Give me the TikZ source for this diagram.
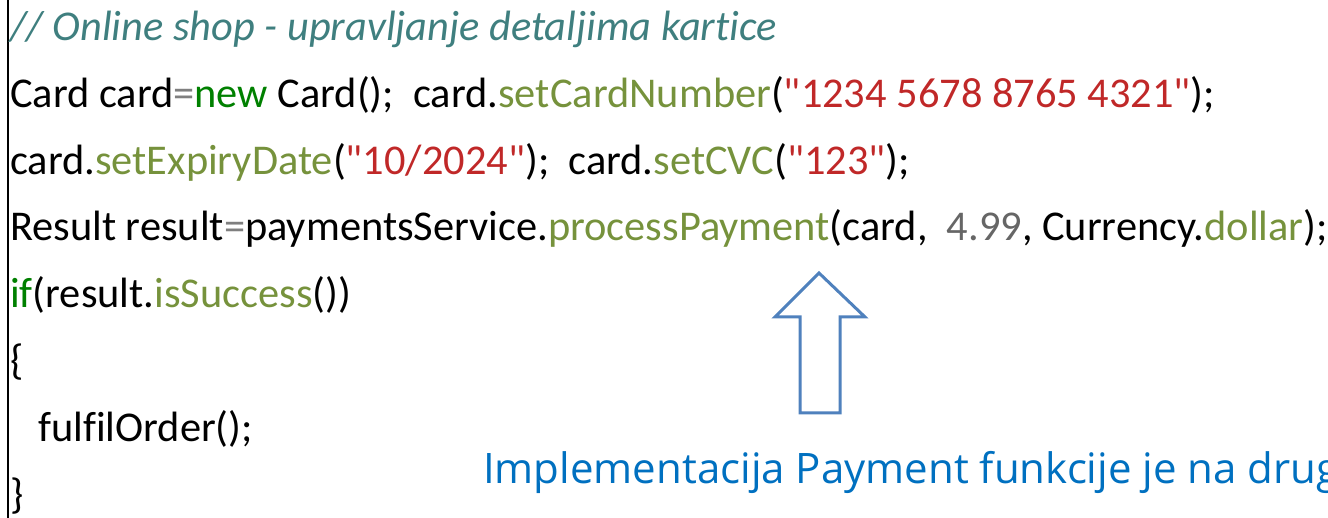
\documentclass[tikz,border=0pt]{standalone}
\usepackage{fontspec}
\setmainfont{Carlito}[Ligatures={TeXOff,CommonOff}]
\newfontfamily\notefont{Open Sans}
\definecolor{cmtcol}{HTML}{3F7F7F}
\definecolor{keycol}{HTML}{008000}
\definecolor{methcol}{HTML}{76923C}
\definecolor{strcol}{HTML}{C02828}
\definecolor{opcol}{HTML}{7F7F7F}
\definecolor{numcol}{HTML}{666666}
\definecolor{notecol}{HTML}{0070C0}
\definecolor{arrowcol}{HTML}{4F81BD}
\newcommand{\cKey}[1]{\textcolor{keycol}{#1}}
\newcommand{\cMeth}[1]{\textcolor{methcol}{#1}}
\newcommand{\cStr}[1]{\textcolor{strcol}{#1}}
\newcommand{\cOp}[1]{\textcolor{opcol}{#1}}
\newcommand{\cNum}[1]{\textcolor{numcol}{#1}}
\newcommand{\dq}{\symbol{34}}
\begin{document}
\begin{tikzpicture}[x=1pt,y=-1pt,
  codeline/.style={anchor=base west, inner sep=0pt, font=\fontsize{42.4}{48}\selectfont},
  notetext/.style={anchor=base west, inner sep=0pt, text=notecol, font=\notefont\fontsize{42}{48}\selectfont},
  bigarrow/.style={draw=arrowcol, line width=3pt, fill=white, line join=miter}]
\useasboundingbox (0,0) rectangle (1328,518);
\clip (0,0) rectangle (1328,518);
\draw[line width=2pt] (8,0) -- (8,518);
\node[codeline, text=cmtcol, font=\fontsize{42.4}{48}\selectfont\itshape] (l1) at (10,41) {// Online shop - upravljanje detaljima kartice};
\node[codeline] (l2) at (10,108) {Card card\cOp{=}\cKey{new} Card();\ \ card.\cMeth{setCardNumber}(\cStr{\dq1234 5678 8765 4321\dq});};
\node[codeline] (l3) at (10,174.5) {card.\cMeth{setExpiryDate}(\cStr{\dq10/2024\dq});\ \ card.\cMeth{setCVC}(\cStr{\dq123\dq});};
\node[codeline] (l4) at (10,241) {Result result\cOp{=}paymentsService.\cMeth{processPayment}(card,\ \ \cNum{4.99}, Currency.\cMeth{dollar});};
\node[codeline] (l5) at (10,307.5) {\cKey{if}(result.\cMeth{isSuccess}())};
\node[codeline] (l6) at (10,374.5) {\{};
\node[codeline] (l7) at (38,441) {fulfilOrder();};
\node[codeline] (l8) at (10,508) {\}};
\draw[bigarrow] (819,273) -- (865,317) -- (840,317) -- (840,413) -- (800,413) -- (800,317) -- (775,317) -- cycle;
\node[notetext] (note) at (483,483) {Implementacija Payment funkcije je na drug};
\end{tikzpicture}
\end{document}
